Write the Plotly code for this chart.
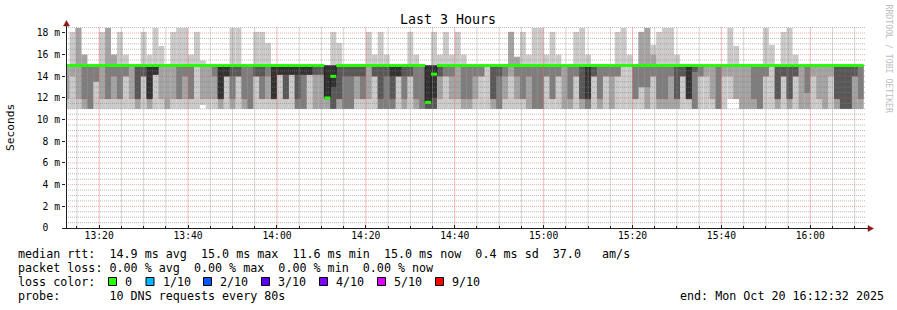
import plotly.graph_objects as go
from datetime import datetime, timedelta

# ---------------- data ----------------
STEP_S = 80                                   # probe step (10 DNS requests every 80 s)
FIRST_STEP = datetime(2025, 10, 20, 13, 12, 0)
RANGE_START = datetime(2025, 10, 20, 13, 12, 32)
RANGE_END = datetime(2025, 10, 20, 16, 12, 32)

# sorted ping times (ms) per 80 s step, ping1 = fastest ... ping10 = slowest
ping1 = [
    11.0, 11.0, 11.0, 11.0, 11.0, 11.0, 11.0, 11.0, 11.0, 11.0, 11.0, 11.0, 11.0, 11.0, 11.0,
    11.0, 11.0, 11.0, 11.0, 11.0, 11.0, 11.0, 11.0, 11.35, 11.0, 11.0, 11.0, 11.0, 11.0, 11.0,
    11.0, 11.0, 11.0, 11.0, 11.0, 11.0, 11.0, 11.0, 11.0, 11.0, 11.0, 11.0, 11.0, 11.0, 11.0,
    11.0, 11.0, 11.0, 11.0, 11.0, 11.0, 11.0, 11.0, 11.0, 11.0, 11.0, 11.0, 11.0, 11.0, 11.0,
    11.0, 11.0, 11.0, 11.0, 11.0, 11.0, 11.0, 11.0, 11.0, 11.0, 11.0, 11.0, 11.0, 11.0, 11.0,
    11.0, 11.0, 11.0, 11.0, 11.0, 11.0, 11.0, 11.0, 11.0, 11.0, 11.0, 11.0, 11.0, 11.0, 11.0,
    11.0, 11.0, 11.0, 11.0, 11.0, 11.0, 11.0, 11.0, 11.0, 11.0, 11.0, 11.0, 11.0, 11.0, 11.0,
    11.0, 11.0, 11.0, 11.0, 11.0, 11.0, 11.0, 11.9, 11.9, 11.0, 11.0, 11.0, 11.0, 11.0, 11.0,
    11.0, 11.0, 11.0, 11.0, 11.0, 11.0, 11.0, 11.0, 11.0, 11.0, 11.0, 11.0, 11.0, 11.0, 11.0,
]
ping2 = [
    11.9, 14.0, 11.9, 11.0, 11.0, 13.5, 11.9, 11.9, 11.9, 11.9, 14.0, 11.9, 11.0, 14.0, 11.0,
    14.15, 11.9, 11.0, 11.9, 11.9, 11.9, 11.9, 15.0, 11.9, 11.9, 11.9, 11.0, 14.0, 11.0, 14.0,
    11.0, 11.0, 14.0, 11.9, 11.9, 11.9, 14.15, 11.9, 14.15, 11.0, 11.0, 14.15, 11.0, 11.0, 11.0,
    11.0, 11.0, 11.0, 11.0, 11.9, 11.9, 11.9, 14.0, 11.0, 11.0, 11.0, 14.0, 11.0, 14.0, 11.0,
    11.0, 11.0, 11.0, 11.9, 14.0, 11.9, 11.9, 11.0, 11.0, 11.9, 14.0, 15.0, 11.0, 11.0, 11.9,
    14.0, 11.9, 11.9, 11.0, 11.0, 11.0, 14.0, 11.9, 14.0, 11.0, 11.0, 14.0, 11.0, 11.0, 14.0,
    11.0, 14.0, 11.0, 14.0, 15.0, 15.0, 11.9, 13.0, 11.0, 14.0, 11.0, 11.0, 11.0, 11.0, 14.0,
    11.9, 11.0, 14.0, 14.0, 11.9, 11.0, 14.0, 14.0, 11.9, 11.0, 11.0, 11.0, 11.0, 14.0, 15.0,
    11.0, 14.0, 11.0, 14.0, 11.0, 11.0, 14.0, 11.9, 11.0, 14.0, 11.0, 11.0, 11.0, 11.0, 11.0,
]
ping3 = [
    15.0, 15.0, 15.0, 11.9, 11.0, 13.5, 15.0, 11.9, 14.0, 11.9, 14.0, 15.0, 11.9, 14.0, 11.9,
    14.15, 15.0, 15.0, 15.0, 11.9, 14.0, 11.9, 15.0, 15.0, 15.0, 14.0, 11.9, 14.0, 11.9, 14.0,
    11.9, 11.0, 14.0, 11.9, 14.0, 11.9, 14.15, 11.9, 14.15, 11.0, 11.0, 14.15, 14.15, 14.15, 11.9,
    11.0, 11.9, 11.0, 11.0, 14.0, 11.9, 15.0, 14.0, 11.0, 11.0, 11.0, 14.0, 11.9, 14.0, 11.9,
    11.0, 11.0, 11.0, 14.0, 14.0, 14.0, 15.0, 11.9, 11.9, 14.0, 14.0, 15.0, 11.9, 11.0, 14.0,
    15.0, 14.0, 11.9, 14.0, 11.0, 11.0, 14.0, 11.9, 14.0, 15.0, 11.9, 14.0, 11.9, 11.0, 14.0,
    11.9, 14.0, 14.0, 14.0, 15.0, 15.0, 11.9, 13.0, 13.0, 14.0, 11.9, 11.9, 14.0, 11.9, 14.0,
    11.9, 11.0, 14.0, 15.0, 15.0, 11.0, 15.0, 15.0, 15.0, 15.0, 15.0, 11.9, 11.0, 14.0, 15.0,
    11.9, 14.0, 11.9, 14.0, 15.0, 12.46, 15.0, 15.0, 15.0, 15.0, 11.9, 11.0, 11.0, 14.0, 11.9,
]
ping4 = [
    15.0, 15.0, 15.0, 15.0, 15.0, 15.0, 15.0, 15.0, 15.0, 15.0, 15.0, 15.0, 11.9, 14.0, 11.9,
    14.15, 15.0, 15.0, 15.0, 15.0, 15.0, 15.0, 15.0, 15.0, 15.0, 15.0, 11.9, 14.0, 14.0, 14.0,
    15.0, 15.0, 14.0, 14.0, 15.0, 11.9, 14.15, 11.9, 14.15, 11.9, 14.15, 14.15, 14.15, 14.15, 11.9,
    11.0, 11.9, 14.0, 14.0, 14.0, 14.0, 15.0, 14.0, 11.9, 14.0, 11.9, 14.0, 14.0, 14.0, 15.0,
    15.0, 11.0, 11.0, 14.0, 15.0, 15.0, 15.0, 15.0, 15.0, 15.0, 15.0, 15.0, 11.9, 14.0, 15.0,
    15.0, 15.0, 15.0, 15.0, 15.0, 15.0, 15.0, 15.0, 15.0, 15.0, 15.0, 15.0, 11.9, 11.9, 14.0,
    15.0, 15.0, 15.0, 15.0, 15.0, 15.0, 15.0, 15.0, 15.0, 15.0, 15.0, 15.0, 15.0, 11.9, 14.0,
    11.9, 14.4, 15.0, 15.0, 15.0, 15.0, 15.0, 15.0, 15.0, 15.0, 15.0, 15.0, 15.0, 15.0, 15.0,
    11.9, 14.0, 11.9, 14.0, 15.0, 15.0, 15.0, 15.0, 15.0, 15.0, 11.9, 11.0, 11.0, 14.0, 15.0,
]
ping5 = [
    15.0, 15.0, 15.0, 15.0, 15.0, 15.0, 15.0, 15.0, 15.0, 15.0, 15.0, 15.0, 15.0, 15.0, 11.9,
    14.15, 15.0, 15.0, 15.0, 15.0, 15.0, 15.0, 15.0, 15.0, 15.0, 15.0, 11.9, 14.0, 15.0, 15.0,
    15.0, 15.0, 15.0, 15.0, 15.0, 11.9, 14.15, 14.15, 14.15, 14.15, 14.15, 14.15, 15.0, 15.0, 11.9,
    13.0, 15.0, 15.0, 15.0, 15.0, 15.0, 15.0, 15.0, 15.0, 15.0, 14.0, 14.0, 15.0, 15.0, 15.0,
    15.0, 11.6, 12.0, 15.0, 15.0, 15.0, 15.0, 15.0, 15.0, 15.0, 15.0, 15.0, 15.0, 15.0, 15.0,
    15.0, 15.0, 15.0, 15.0, 15.0, 15.0, 15.0, 15.0, 15.0, 15.0, 15.0, 15.0, 15.0, 11.9, 15.0,
    15.0, 15.0, 15.0, 15.0, 15.0, 15.0, 15.0, 15.0, 15.0, 15.0, 15.0, 15.0, 15.0, 15.0, 15.0,
    11.9, 15.0, 15.0, 15.0, 15.0, 15.0, 15.0, 15.0, 15.0, 15.0, 15.0, 15.0, 15.0, 15.0, 15.0,
    15.0, 15.0, 15.0, 15.0, 15.0, 15.0, 15.0, 15.0, 15.0, 15.0, 15.0, 15.0, 15.0, 15.0, 15.0,
]
# ping6..ping8 sit at the median (hidden under the green line)
ping6 = [15.0] * len(ping1)
ping7 = list(ping6)
ping8 = list(ping6)
ping9 = [
    15.0, 15.0, 18.46, 16.0, 15.0, 15.0, 15.0, 18.46, 16.0, 15.0, 15.0, 15.0, 15.0, 15.0, 15.0,
    15.0, 15.0, 15.0, 15.0, 15.0, 15.0, 15.0, 15.0, 15.0, 15.0, 15.0, 15.0, 15.0, 15.0, 15.0,
    15.0, 15.0, 15.0, 15.0, 15.0, 15.0, 15.0, 15.0, 15.0, 15.0, 15.0, 15.0, 15.0, 15.0, 15.0,
    15.0, 15.0, 15.0, 15.0, 15.0, 15.0, 15.0, 15.0, 15.0, 15.0, 15.0, 15.0, 15.0, 15.0, 15.0,
    15.0, 15.0, 15.0, 15.0, 15.0, 15.0, 15.0, 15.0, 15.0, 15.0, 15.0, 15.0, 15.0, 15.0, 15.0,
    18.1, 15.8, 15.0, 15.0, 15.0, 15.0, 15.0, 15.0, 15.0, 15.0, 15.0, 15.0, 15.0, 15.0, 15.0,
    15.0, 15.0, 15.0, 15.0, 15.0, 15.0, 15.0, 18.1, 18.46, 16.0, 15.0, 15.0, 15.0, 15.0, 15.0,
    15.0, 15.0, 15.0, 15.0, 15.0, 15.0, 15.0, 15.0, 15.0, 15.0, 15.0, 15.0, 15.0, 15.0, 15.0,
    15.0, 15.0, 15.0, 15.0, 15.0, 15.0, 15.0, 15.0, 15.0, 15.0, 15.0, 15.0, 15.0, 15.0, 15.0,
]
ping10 = [
    15.0, 18.1, 18.46, 16.0, 15.0, 15.0, 18.1, 18.46, 16.0, 18.1, 16.0, 15.0, 15.0, 18.1, 16.0,
    18.46, 16.8, 15.0, 18.1, 18.46, 18.46, 16.0, 18.1, 15.45, 15.0, 15.0, 15.0, 15.0, 18.46, 18.46,
    15.0, 15.0, 18.1, 18.1, 17.08, 15.0, 15.0, 15.0, 15.0, 15.0, 15.0, 15.0, 15.0, 15.0, 15.0,
    18.1, 17.08, 15.0, 15.0, 15.0, 15.0, 18.1, 16.0, 18.1, 16.0, 15.0, 15.0, 15.0, 18.1, 16.0,
    15.0, 15.0, 18.1, 16.0, 18.1, 16.0, 18.1, 16.0, 15.0, 15.0, 15.0, 15.0, 15.0, 15.0, 15.0,
    18.1, 15.8, 18.1, 16.0, 18.46, 18.46, 16.0, 18.1, 16.0, 15.0, 15.0, 18.1, 18.46, 16.0, 15.0,
    15.0, 15.0, 15.0, 18.1, 18.46, 16.0, 15.0, 18.1, 18.46, 16.9, 18.1, 18.46, 18.46, 16.0, 15.0,
    15.0, 15.0, 15.0, 15.0, 15.0, 15.0, 15.0, 18.46, 16.8, 15.0, 15.0, 15.0, 15.0, 18.46, 16.9,
    15.0, 18.1, 18.46, 16.0, 15.0, 15.0, 15.0, 15.0, 15.0, 15.0, 15.0, 15.0, 15.0, 15.0, 15.0,
]
median = [
    15.0, 15.0, 15.0, 15.0, 15.0, 15.0, 15.0, 15.0, 15.0, 15.0, 15.0, 15.0, 15.0, 15.0, 15.0,
    15.0, 15.0, 15.0, 15.0, 15.0, 15.0, 15.0, 15.0, 15.0, 15.0, 15.0, 15.0, 15.0, 15.0, 15.0,
    15.0, 15.0, 15.0, 15.0, 15.0, 15.0, 15.0, 15.0, 15.0, 15.0, 15.0, 15.0, 15.0, 15.0, 12.0,
    14.0, 15.0, 15.0, 15.0, 15.0, 15.0, 15.0, 15.0, 15.0, 15.0, 15.0, 15.0, 15.0, 15.0, 15.0,
    15.0, 11.6, 14.2, 15.0, 15.0, 15.0, 15.0, 15.0, 15.0, 15.0, 15.0, 15.0, 15.0, 15.0, 15.0,
    15.0, 15.0, 15.0, 15.0, 15.0, 15.0, 15.0, 15.0, 15.0, 15.0, 15.0, 15.0, 15.0, 15.0, 15.0,
    15.0, 15.0, 15.0, 15.0, 15.0, 15.0, 15.0, 15.0, 15.0, 15.0, 15.0, 15.0, 15.0, 15.0, 15.0,
    15.0, 15.0, 15.0, 15.0, 15.0, 15.0, 15.0, 15.0, 15.0, 15.0, 15.0, 15.0, 15.0, 15.0, 15.0,
    15.0, 15.0, 15.0, 15.0, 15.0, 15.0, 15.0, 15.0, 15.0, 15.0, 15.0, 15.0, 15.0, 15.0, 15.0,
]

y_tick_values = [0, 2, 4, 6, 8, 10, 12, 14, 16, 18]
y_tick_labels = ["0\u00a0\u00a0", "2 m", "4 m", "6 m", "8 m", "10 m", "12 m", "14 m", "16 m", "18 m"]
x_tick_labels = ["13:20", "13:40", "14:00", "14:20", "14:40", "15:00", "15:20", "15:40", "16:00"]

title_text = "Last 3 Hours"
stats_rtt = "median rtt:  14.9 ms avg  15.0 ms max  11.6 ms min  15.0 ms now  0.4 ms sd  37.0   am/s"
stats_loss = "packet loss: 0.00 % avg  0.00 % max  0.00 % min  0.00 % now"
loss_labels = ["0", "1/10", "2/10", "3/10", "4/10", "5/10", "9/10"]
loss_colors = ["#26ff00", "#00b8ff", "#0059ff", "#5e00ff", "#7e00ff", "#dd00ff", "#ff0000"]
probe_text = "probe:       10 DNS requests every 80s"
end_text = "end: Mon Oct 20 16:12:32 2025"

# ---------------- layout constants ----------------
W, H = 897, 310
L, R_EDGE, T, B = 66, 866, 27, 228
PW, PH = R_EDGE - L, B - T
Y_TOP = 18.55
MONO = "DejaVu Sans Mono"
SMOKE = ["#cacaca", "#a4a4a4", "#7e7e7e", "#585858", "#323232"]
MINOR_GRID = "rgba(130,130,130,0.55)"
MAJOR_GRID = "rgba(230,70,70,0.45)"
MINOR_VGRID = "rgba(150,150,150,0.4)"
MAJOR_VGRID = "rgba(235,80,80,0.4)"


def nb(s):
    return s.replace(" ", "\u00a0")


def px(x):
    return (x - L) / PW


def py(y):
    return (B - y) / PH


n = len(ping1)
starts = [FIRST_STEP + timedelta(seconds=STEP_S * i) for i in range(n)]
centers = [s + timedelta(seconds=STEP_S / 2) for s in starts]
ends = [s + timedelta(seconds=STEP_S) for s in starts]

pings = [ping1, ping2, ping3, ping4, ping5, ping6, ping7, ping8, ping9, ping10]

fig = go.Figure()

# smoke: band i spans ping(i) .. ping(11-i)
for i in range(5):
    lo = pings[i]
    hi = pings[9 - i]
    fig.add_trace(go.Bar(
        x=centers, base=lo, y=[h - l for l, h in zip(lo, hi)],
        width=STEP_S * 1000, marker=dict(color=SMOKE[i], line=dict(width=0)),
        hoverinfo="skip", showlegend=False))

minor_y = [v / 2 for v in range(1, 38) if v % 4 != 0]
major_y = y_tick_values[1:]
five_min = []
tcur = datetime(2025, 10, 20, 13, 15)
while tcur < RANGE_END:
    five_min.append(tcur)
    tcur += timedelta(minutes=5)
major_x = [tt for tt in five_min if tt.minute % 20 == 0]
minor_x = [tt for tt in five_min if tt.minute % 20 != 0]


# grid (drawn above the smoke as rrdtool does)
def hline(v, color):
    fig.add_trace(go.Scatter(x=[RANGE_START, RANGE_END], y=[v, v], mode="lines",
                             hoverinfo="skip", showlegend=False,
                             line=dict(color=color, width=1, dash="1px,1px")))


def vline(tt, color):
    fig.add_trace(go.Scatter(x=[tt, tt], y=[0, Y_TOP], mode="lines",
                             hoverinfo="skip", showlegend=False,
                             line=dict(color=color, width=1)))


for v in minor_y:
    hline(v, MINOR_GRID)
for tt in minor_x:
    vline(tt, MINOR_VGRID)
for v in major_y:
    hline(v, MAJOR_GRID)
for tt in major_x:
    vline(tt, MAJOR_VGRID)

# thin dark median line (step)
fig.add_trace(go.Scatter(x=starts + [ends[-1]], y=median + [median[-1]], mode="lines",
                         line=dict(color="#202020", width=1, shape="hv"),
                         hoverinfo="skip", showlegend=False))
# loss-coloured median segments
mx, my = [], []
for s, e, m in zip(starts, ends, median):
    mx += [s, e, None]
    my += [m, m, None]
fig.add_trace(go.Scatter(x=mx, y=my, mode="lines", line=dict(color=loss_colors[0], width=3),
                         hoverinfo="skip", showlegend=False))

annotations = []
shapes = []


def text(x, y, s, size=11.7, anchor="left", color="#000000", angle=0):
    annotations.append(dict(x=px(x), y=py(y), xref="paper", yref="paper", text=nb(s),
                            showarrow=False, xanchor=anchor, yanchor="middle",
                            textangle=angle, font=dict(family=MONO, size=size, color=color)))


text(448, 19.5, title_text, size=13.3, anchor="center")
text(11, 127, "Seconds", size=11.2, anchor="center", angle=-90)
text(888.5, 59, "RRDTOOL / TOBI OETIKER", size=8.2, anchor="center", color="#bdbdbd", angle=90)
text(16, 254, stats_rtt)
text(16, 268, stats_loss)
text(16, 282, "loss color:")
box_left = [108.5, 146, 203.5, 261.5, 319.5, 377.5, 435.5]
for bx, lab, col in zip(box_left, loss_labels, loss_colors):
    shapes.append(dict(type="rect", xref="paper", yref="paper",
                       x0=px(bx), x1=px(bx + 8), y0=py(285.5), y1=py(277.5),
                       fillcolor=col, line=dict(color="#000000", width=1)))
    text(bx + 14.8, 282, lab)
text(16, 296, probe_text)
text(678, 296, end_text)

# axis lines and arrows
AX = "#202020"
shapes.append(dict(type="line", xref="paper", yref="paper", x0=px(62), x1=px(869),
                   y0=py(228.5), y1=py(228.5), line=dict(color=AX, width=1)))
shapes.append(dict(type="line", xref="paper", yref="paper", x0=px(66.5), x1=px(66.5),
                   y0=py(228.5), y1=py(24), line=dict(color=AX, width=1)))
ARROW = "#8b1a1a"
shapes.append(dict(type="path", xref="paper", yref="paper",
                   path=f"M {px(63.5)} {py(26)} L {px(69.5)} {py(26)} L {px(66.5)} {py(20.5)} Z",
                   fillcolor=ARROW, line=dict(color=ARROW, width=0.5)))
shapes.append(dict(type="path", xref="paper", yref="paper",
                   path=f"M {px(868)} {py(225.5)} L {px(868)} {py(231.5)} L {px(873.5)} {py(228.5)} Z",
                   fillcolor=ARROW, line=dict(color=ARROW, width=0.5)))

fig.update_layout(
    width=W, height=H, margin=dict(l=L, r=W - R_EDGE, t=T, b=H - B),
    paper_bgcolor="#ffffff", plot_bgcolor="#ffffff",
    barmode="overlay", showlegend=False,
    font=dict(family=MONO, size=9.7, color="#000000"),
    annotations=annotations, shapes=shapes,
    xaxis=dict(type="date", range=[RANGE_START, RANGE_END], showgrid=False, zeroline=False,
               showline=False, tickvals=major_x, ticktext=x_tick_labels,
               ticks="inside", ticklen=3, tickcolor=AX,
               minor=dict(tickvals=minor_x, ticks="inside", ticklen=2, tickcolor=AX, showgrid=False),
               tickfont=dict(family=MONO, size=9.7)),
    yaxis=dict(range=[0, Y_TOP], showgrid=False, zeroline=False, showline=False,
               tickvals=y_tick_values, ticktext=y_tick_labels,
               ticks="outside", ticklen=3, tickcolor=AX,
               tickfont=dict(family=MONO, size=9.7)),
)

fig.write_html("out.html")
